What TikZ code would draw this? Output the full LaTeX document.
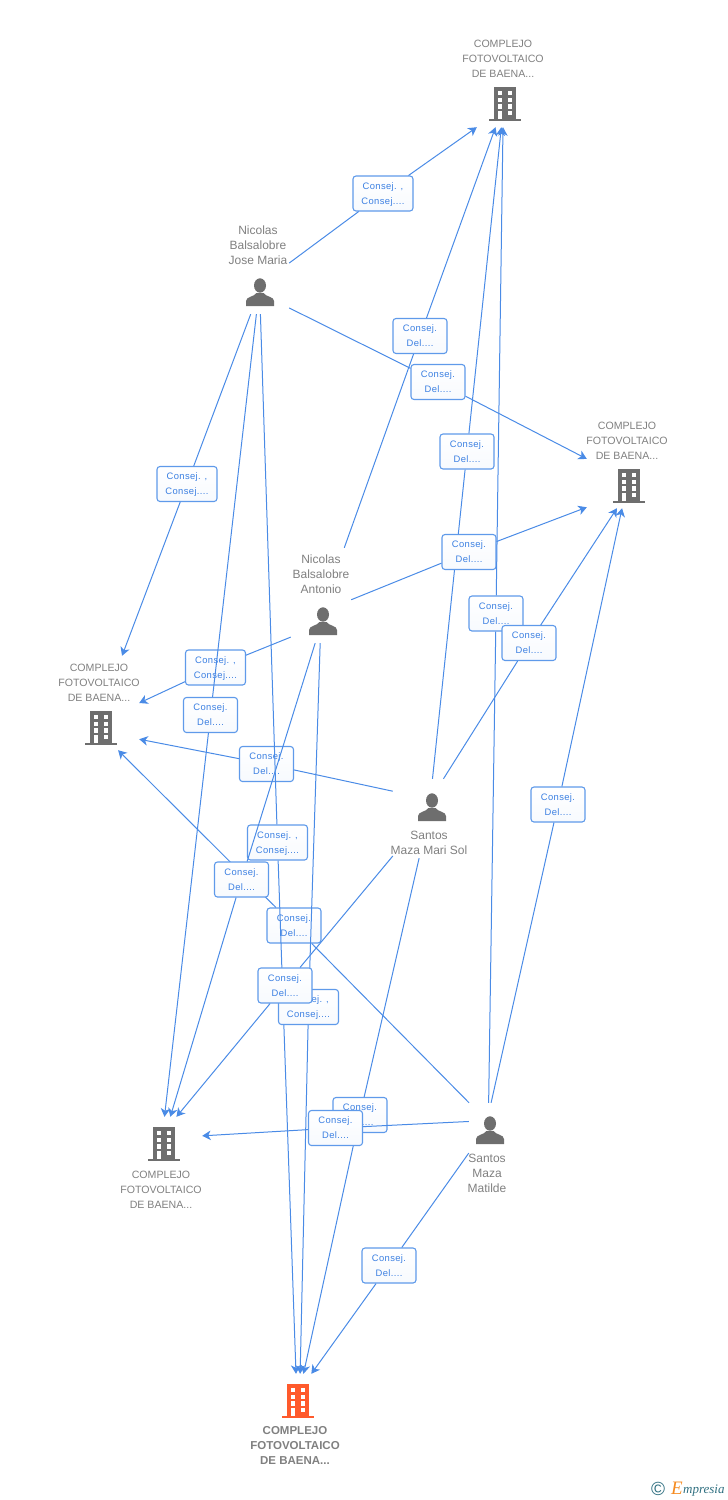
\documentclass[tikz,border=0pt]{standalone}
\usepackage{fontspec}
\setmainfont{Liberation Sans}
\newfontfamily\boxfont[LetterSpace=4]{Liberation Sans}
\newfontfamily\logofont{Liberation Serif}
\usetikzlibrary{arrows.meta}

\definecolor{linkblue}{HTML}{4A8BE6}
\definecolor{boxblue}{HTML}{5F9AEA}
\definecolor{textblue}{HTML}{3C80E2}
\definecolor{icongrey}{HTML}{6E6E6E}
\definecolor{labelgrey}{HTML}{808080}
\definecolor{mainorange}{HTML}{FF5A2C}
\definecolor{logoteal}{HTML}{2F6F80}
\definecolor{logoorange}{HTML}{F58A1F}

\tikzset{
    link/.style={draw=linkblue,line width=1pt},
    linkarrow/.style={link,-{Stealth[length=8.5pt,width=9.5pt,inset=2.5pt]}},
    hit/.style={inner sep=0pt,minimum width=#1,minimum height=94pt},
    boxdel/.style={draw=boxblue,line width=1.1pt,rounded corners=3pt,top color=white,bottom color=white!95!boxblue,
        minimum width=54pt,minimum height=35pt,inner sep=0pt,align=center,text=textblue,text depth=0pt,font=\boxfont\fontsize{9.4}{15}\selectfont},
    boxcon/.style={boxdel,minimum width=60pt},
    firmlabel/.style={align=center,text=labelgrey,inner sep=0pt,font=\fontsize{10.6}{15}\selectfont},
    mainlabel/.style={firmlabel,font=\fontsize{11.5}{15}\selectfont\bfseries},
    personlabel/.style={firmlabel,font=\fontsize{12}{15}\selectfont},
    pics/building/.style={code={
        \fill[#1] (-11.3,-16.7) rectangle (11.3,15.2);
        \fill[#1] (-16,15) rectangle (16,16.7);
        \foreach \rowy in {-13,-6.3,0.3} {
            \fill[white] (-7.3,\rowy) rectangle (-2.7,\rowy+4.3);
            \fill[white] (2.7,\rowy) rectangle (7.3,\rowy+4.3);
        }
        \fill[white] (-6.7,6.7) rectangle (-2.7,14.5);
        \fill[white] (2.7,6.7) rectangle (7.3,11);
    }},
    pics/person/.style={code={
        \fill[icongrey] (0,-6.5) ellipse (6 and 7.2);
        \fill[icongrey] (-14,14) -- (-14,9) .. controls (-14,4.5) and (-6,5) .. (-3.5,1) -- (3.5,1) .. controls (6,5) and (14,4.5) .. (14,9) -- (14,14) -- cycle;
    }}
}

\begin{document}
\begin{tikzpicture}[x=1pt,y=-1pt]
    \useasboundingbox (0,0) rectangle (728,1500);

    % firms
    \node[hit=80pt] (top) at (503,80) {};
    \node[hit=80pt] (right) at (627,461) {};
    \node[hit=80pt] (left) at (99,703) {};
    \node[hit=80pt] (low) at (162,1164) {};
    \node[hit=80pt] (main) at (296,1421) {};

    \node[firmlabel] (toplabel) at (503,59) {COMPLEJO\\FOTOVOLTAICO\\DE BAENA...};
    \node[firmlabel] (rightlabel) at (627,441) {COMPLEJO\\FOTOVOLTAICO\\DE BAENA...};
    \node[firmlabel] (leftlabel) at (99,683) {COMPLEJO\\FOTOVOLTAICO\\DE BAENA...};
    \node[firmlabel] (lowlabel) at (161,1190) {COMPLEJO\\FOTOVOLTAICO\\DE BAENA...};
    \node[mainlabel] (mainlabeltext) at (295,1445) {COMPLEJO\\FOTOVOLTAICO\\DE BAENA...};

    \pic at (505,104) {building=icongrey};
    \pic at (629,486) {building=icongrey};
    \pic at (101,728) {building=icongrey};
    \pic at (164,1144) {building=icongrey};
    \pic at (298,1401) {building=mainorange};

    % persons
    \node[hit=62pt,minimum height=92pt] (jose) at (258,268) {};
    \node[hit=60pt,minimum height=95pt] (antonio) at (321,595.5) {};
    \node[hit=72pt,minimum height=79pt] (marisol) at (429,818.5) {};
    \node[hit=36pt,minimum height=93pt] (matilde) at (487,1149.5) {};

    \node[personlabel] (joselabel) at (258,245) {Nicolas\\Balsalobre\\Jose Maria};
    \node[personlabel] (antoniolabel) at (321,574) {Nicolas\\Balsalobre\\Antonio};
    \node[personlabel] (marisollabel) at (429,842.5) {Santos\\Maza Mari Sol};
    \node[personlabel] (matildelabel) at (487,1173) {Santos\\Maza\\Matilde};

    \pic at (260,292) {person};
    \pic at (323,621) {person};
    \pic at (432,807) {person};
    \pic at (490,1130) {person};

    % links to the upper firms
    \node[boxcon] (joseA) at (383,193.5) {Consej. ,\\Consej....};
    \draw[link] (jose.9) -- (joseA);
    \draw[linkarrow] (joseA) -- (top.-119);

    \node[boxdel] (joseB) at (438,382) {Consej.\\Del....};
    \draw[link] (jose.-52) -- (joseB);
    \draw[linkarrow] (joseB) -- (right.177);

    \node[boxdel] (antonioA) at (420,336) {Consej.\\Del....};
    \draw[link] (antonio.64) -- (antonioA);
    \draw[linkarrow] (antonioA) -- (top.-99.7);

    \node[boxdel] (marisolA) at (467,451.5) {Consej.\\Del....};
    \draw[link] (marisol.85.7) -- (marisolA);
    \draw[linkarrow] (marisolA) -- (top.-92.4);

    \node[boxdel] (antonioB) at (469,552) {Consej.\\Del....};
    \draw[link] (antonio.-8.5) -- (antonioB);
    \draw[linkarrow] (antonioB) -- (right.-131.6);

    \node[boxdel] (matildeA) at (496,613.5) {Consej.\\Del....};
    \draw[link] (matilde.88.8) -- (matildeA);
    \draw[linkarrow] (matildeA) -- (top.-90.4);

    \node[boxdel] (marisolB) at (529,643) {Consej.\\Del....};
    \draw[link] (marisol.70.5) -- (marisolB);
    \draw[linkarrow] (marisolB) -- (right.-102);

    \node[boxdel] (matildeB) at (558,804.5) {Consej.\\Del....};
    \draw[link] (matilde.85.1) -- (matildeB);
    \draw[linkarrow] (matildeB) -- (right.-96);

    % links to the left firm
    \node[boxcon] (joseC) at (187,484) {Consej. ,\\Consej....};
    \draw[link] (jose.261.3) -- (joseC);
    \draw[linkarrow] (joseC) -- (left.64);

    \node[boxcon] (antonioC) at (215.5,667.5) {Consej. ,\\Consej....};
    \draw[link] (antonio.-126.5) -- (antonioC);
    \draw[linkarrow] (antonioC) -- (left.0);

    \node[boxdel] (marisolC) at (266.5,764) {Consej.\\Del....};
    \draw[link] (marisol.143.6) -- (marisolC);
    \draw[linkarrow] (marisolC) -- (left.-42);

    \node[boxdel] (matildeC) at (294,925.5) {Consej.\\Del....};
    \draw[link] (matilde.111.2) -- (matildeC);
    \draw[linkarrow] (matildeC) -- (left.-68);

    % links to the two lower firms
    \node[boxdel] (joseD) at (210.5,715) {Consej.\\Del....};
    \draw[link] (jose.-92.5) -- (joseD);
    \draw[linkarrow] (joseD) -- (low.87.6);

    \node[boxcon] (joseE) at (277.5,842.5) {Consej. ,\\Consej....};
    \draw[link] (jose.-87.5) -- (joseE);
    \draw[linkarrow] (joseE) -- (main.90);

    \node[boxdel] (antonioD) at (241.5,879.5) {Consej.\\Del....};
    \draw[link] (antonio.-97.2) -- (antonioD);
    \draw[linkarrow] (antonioD) -- (low.80.3);

    \node[boxcon] (antonioE) at (308.5,1007) {Consej. ,\\Consej....};
    \draw[link] (antonio.-91.2) -- (antonioE);
    \draw[linkarrow] (antonioE) -- (main.85);

    \node[boxdel] (marisolD) at (285,985.5) {Consej.\\Del....};
    \draw[link] (marisol.-134.6) -- (marisolD);
    \draw[linkarrow] (marisolD) -- (low.73.4);

    \node[boxdel] (marisolE) at (360,1115) {Consej.\\Del....};
    \draw[link] (marisol.-104.2) -- (marisolE);
    \draw[linkarrow] (marisolE) -- (main.81.5);

    \node[boxdel] (matildeD) at (335.5,1128) {Consej.\\Del....};
    \draw[link] (matilde.123.2) -- (matildeD);
    \draw[linkarrow] (matildeD) -- (low.35);

    \node[boxdel] (matildeE) at (389,1265.5) {Consej.\\Del....};
    \draw[link] (matilde.-169) -- (matildeE);
    \draw[linkarrow] (matildeE) -- (main.72.3);

    % logo
    \node[inner sep=0pt,text=logoteal,font=\fontsize{19}{19}\selectfont] (logoc) at (658,1489) {©};
    \node[inner sep=0pt,anchor=base west,text=logoorange,font=\logofont\fontsize{19}{19}\selectfont\itshape] (logoe) at (671,1494) {E};
    \node[inner sep=0pt,anchor=base west,text=logoteal,font=\logofont\fontsize{13}{13}\selectfont\itshape] (logotext) at (683,1493.5) {mpresia};
\end{tikzpicture}
\end{document}
